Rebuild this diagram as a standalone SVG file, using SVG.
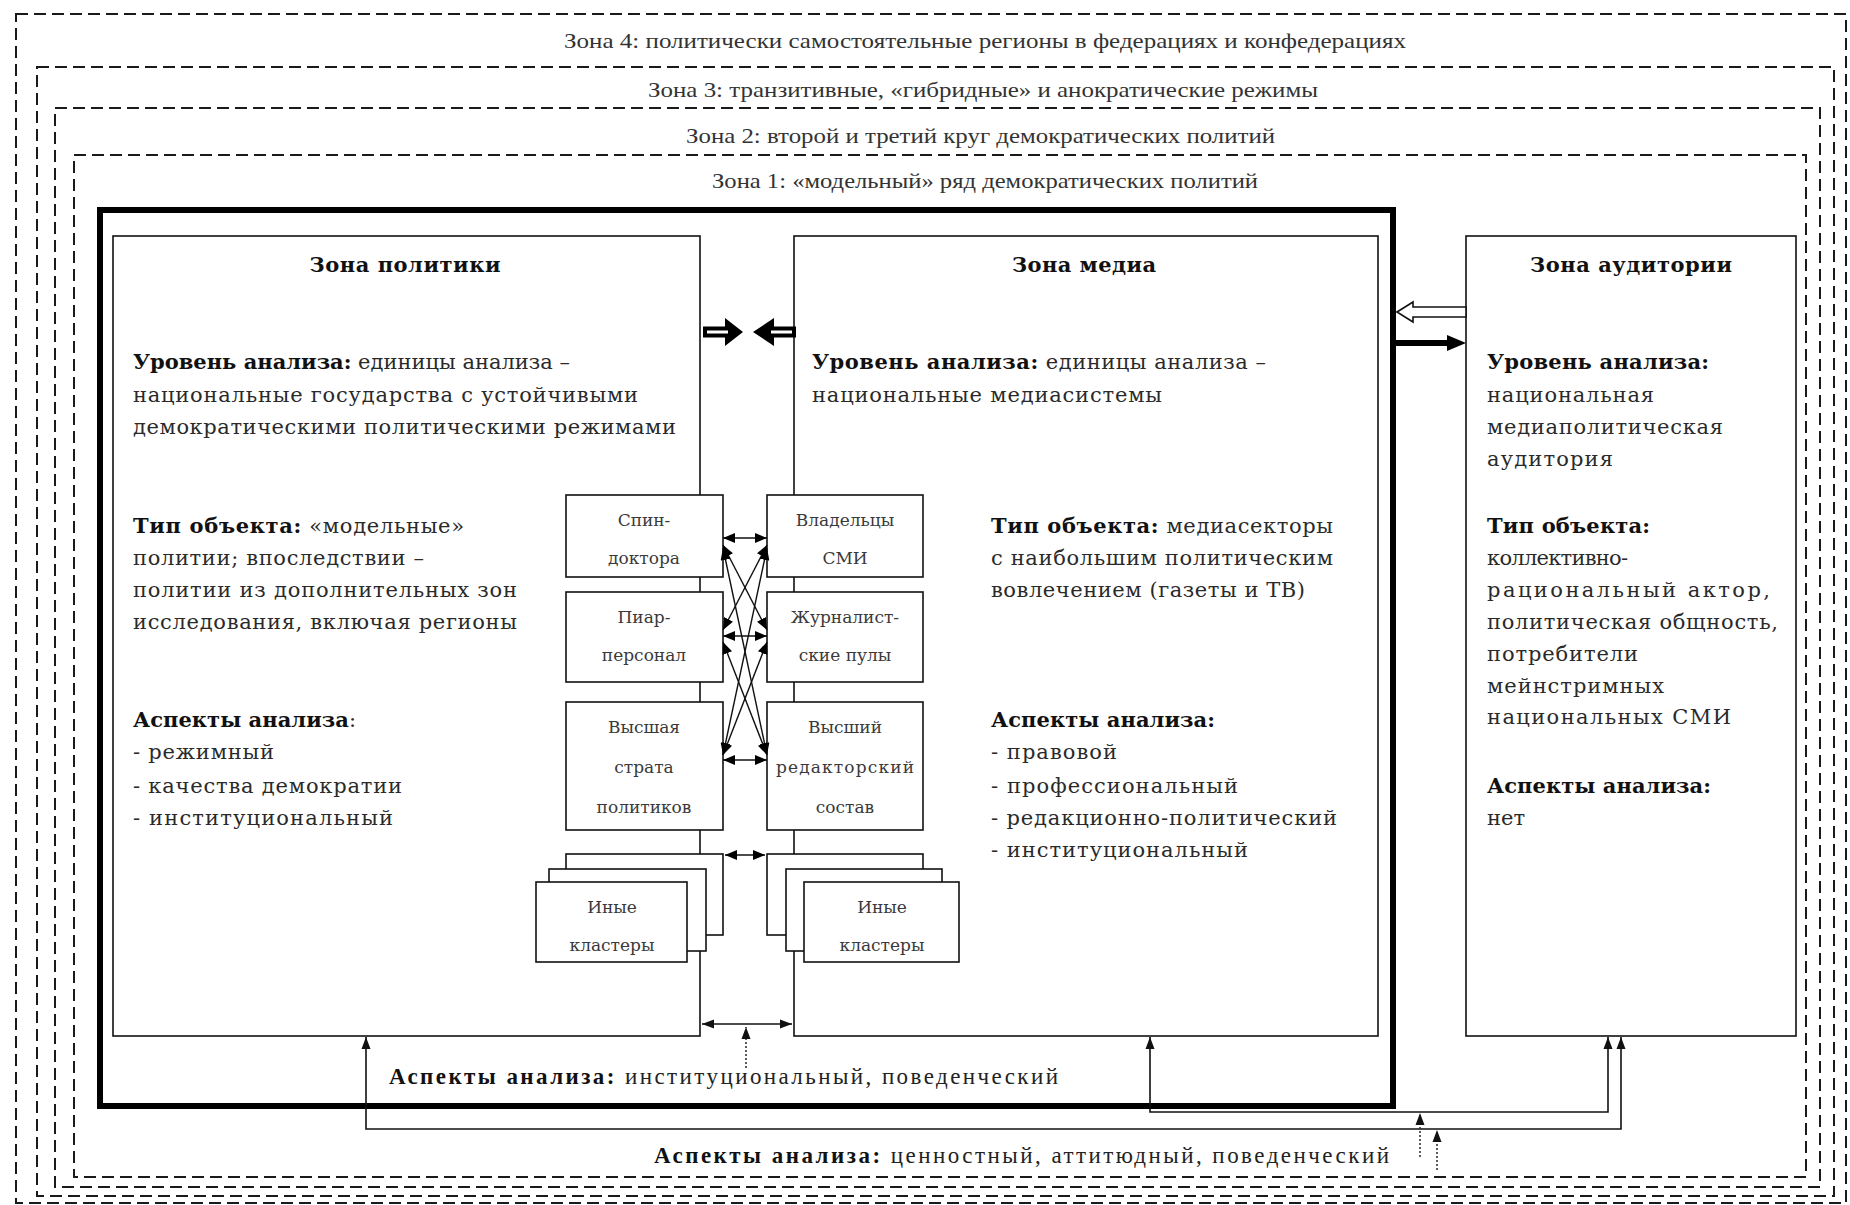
<svg xmlns="http://www.w3.org/2000/svg" width="1850" height="1205" viewBox="0 0 1850 1205">
<style>
.dash{fill:none;stroke:#1a1a1a;stroke-width:2;stroke-dasharray:12 6}
.box{fill:#fff;stroke:#111;stroke-width:1.6}
.thick{fill:none;stroke:#000;stroke-width:6}
.zl{font-family:"Liberation Serif","Times New Roman",serif;font-size:22px;fill:#333}
.t{font-family:"DejaVu Serif",serif;font-size:21px;fill:#2a2a2a}
.b{font-weight:bold;fill:#111}
.title{font-family:"DejaVu Serif",serif;font-size:21px;font-weight:bold;fill:#111;text-anchor:middle}
.sm{font-family:"DejaVu Serif",serif;font-size:17px;fill:#3a3a3a;text-anchor:middle}
.bt{font-family:"Liberation Serif","Times New Roman",serif;font-size:23px;fill:#222}
.ln{fill:none;stroke:#111;stroke-width:1.6}
.cl{fill:none;stroke:#111;stroke-width:1.4}
.dot{fill:none;stroke:#333;stroke-width:1.6;stroke-dasharray:2 2}
</style>
<defs>
<marker id="ah" viewBox="0 0 12 10" refX="12" refY="5" markerWidth="12" markerHeight="10" markerUnits="userSpaceOnUse" orient="auto-start-reverse"><path d="M0,0.5 L12,5 L0,9.5 z" fill="#111"/></marker>
<marker id="as" viewBox="0 0 12 10" refX="12" refY="5" markerWidth="12" markerHeight="10" markerUnits="userSpaceOnUse" orient="auto-start-reverse"><path d="M0,0 L12,5 L0,10 z" fill="#000"/></marker>
</defs>

<g id="zones">
<rect class="dash" x="16" y="14" width="1830" height="1189"/>
<rect class="dash" x="37" y="67" width="1797" height="1129"/>
<rect class="dash" x="55" y="108" width="1765" height="1079"/>
<rect class="dash" x="74" y="155" width="1732" height="1022"/>
<text class="zl" x="564" y="48" textLength="842" lengthAdjust="spacingAndGlyphs">Зона 4: политически самостоятельные регионы в федерациях и конфедерациях</text>
<text class="zl" x="648" y="97" textLength="670" lengthAdjust="spacingAndGlyphs">Зона 3: транзитивные, «гибридные» и анократические режимы</text>
<text class="zl" x="686" y="143" textLength="589" lengthAdjust="spacingAndGlyphs">Зона 2: второй и третий круг демократических политий</text>
<text class="zl" x="712" y="188" textLength="546" lengthAdjust="spacingAndGlyphs">Зона 1: «модельный» ряд демократических политий</text>
</g>

<g id="zone1-frame">
<rect class="thick" x="100" y="210" width="1293" height="896"/>
</g>

<g id="zona-politiki">
<rect class="box" x="113" y="236" width="587" height="800"/>
<text class="title" x="405" y="272" textLength="191">Зона политики</text>
<text class="t" x="133" y="369" textLength="437"><tspan class="b">Уровень анализа:</tspan> единицы анализа –</text>
<text class="t" x="133" y="402" textLength="505">национальные государства с устойчивыми</text>
<text class="t" x="133" y="434" textLength="543">демократическими политическими режимами</text>
<text class="t" x="133" y="533" textLength="331"><tspan class="b">Тип объекта:</tspan> «модельные»</text>
<text class="t" x="133" y="565" textLength="291">политии; впоследствии –</text>
<text class="t" x="133" y="597" textLength="384">политии из дополнительных зон</text>
<text class="t" x="133" y="629" textLength="384">исследования, включая регионы</text>
<text class="t" x="133" y="727" textLength="223"><tspan class="b">Аспекты анализа</tspan>:</text>
<text class="t" x="133" y="759" textLength="141">- режимный</text>
<text class="t" x="133" y="793" textLength="269">- качества демократии</text>
<text class="t" x="133" y="825" textLength="260">- институциональный</text>
</g>

<g id="zona-media">
<rect class="box" x="794" y="236" width="584" height="800"/>
<text class="title" x="1084" y="272" textLength="144">Зона медиа</text>
<text class="t" x="812" y="369" textLength="454"><tspan class="b">Уровень анализа:</tspan> единицы анализа –</text>
<text class="t" x="812" y="402" textLength="350">национальные медиасистемы</text>
<text class="t" x="991" y="533" textLength="342"><tspan class="b">Тип объекта:</tspan> медиасекторы</text>
<text class="t" x="991" y="565" textLength="342">с наибольшим политическим</text>
<text class="t" x="991" y="597" textLength="314">вовлечением (газеты и ТВ)</text>
<text class="t" x="991" y="727" textLength="224"><tspan class="b">Аспекты анализа:</tspan></text>
<text class="t" x="991" y="759" textLength="126">- правовой</text>
<text class="t" x="991" y="793" textLength="247">- профессиональный</text>
<text class="t" x="991" y="825" textLength="346">- редакционно-политический</text>
<text class="t" x="991" y="857" textLength="257">- институциональный</text>
</g>

<g id="zona-auditorii">
<rect class="box" x="1466" y="236" width="330" height="800"/>
<text class="title" x="1631" y="272" textLength="202">Зона аудитории</text>
<text class="t" x="1487" y="369" textLength="222"><tspan class="b">Уровень анализа:</tspan></text>
<text class="t" x="1487" y="402" textLength="167">национальная</text>
<text class="t" x="1487" y="434" textLength="236">медиаполитическая</text>
<text class="t" x="1487" y="466" textLength="126">аудитория</text>
<text class="t" x="1487" y="533" textLength="163"><tspan class="b">Тип объекта:</tspan></text>
<text class="t" x="1487" y="565" textLength="141">коллективно-</text>
<text class="t" x="1487" y="597" textLength="283">рациональный актор,</text>
<text class="t" x="1487" y="629" textLength="291">политическая общность,</text>
<text class="t" x="1487" y="661" textLength="151">потребители</text>
<text class="t" x="1487" y="693" textLength="177">мейнстримных</text>
<text class="t" x="1487" y="724" textLength="244">национальных СМИ</text>
<text class="t" x="1487" y="793" textLength="224"><tspan class="b">Аспекты анализа:</tspan></text>
<text class="t" x="1487" y="825">нет</text>
</g>

<g id="spin-doktora">
<rect class="box" x="566" y="495" width="157" height="82"/>
<text class="sm" x="644" y="526">Спин-</text>
<text class="sm" x="644" y="564">доктора</text>
</g>
<g id="piar-personal">
<rect class="box" x="566" y="592" width="157" height="90"/>
<text class="sm" x="644" y="623">Пиар-</text>
<text class="sm" x="644" y="661">персонал</text>
</g>
<g id="vysshaya-strata">
<rect class="box" x="566" y="702" width="157" height="128"/>
<text class="sm" x="644" y="733">Высшая</text>
<text class="sm" x="644" y="773">страта</text>
<text class="sm" x="644" y="813">политиков</text>
</g>
<g id="vladeltsy-smi">
<rect class="box" x="767" y="495" width="156" height="82"/>
<text class="sm" x="845" y="526">Владельцы</text>
<text class="sm" x="845" y="564">СМИ</text>
</g>
<g id="zhurnalistskie-puly">
<rect class="box" x="767" y="592" width="156" height="90"/>
<text class="sm" x="845" y="623">Журналист-</text>
<text class="sm" x="845" y="661">ские пулы</text>
</g>
<g id="vysshiy-redaktorskiy">
<rect class="box" x="767" y="702" width="156" height="128"/>
<text class="sm" x="845" y="733">Высший</text>
<text class="sm" x="845" y="773" textLength="138">редакторский</text>
<text class="sm" x="845" y="813">состав</text>
</g>
<g id="inye-klastery-politika">
<rect class="box" x="566" y="854" width="157" height="81"/>
<rect class="box" x="549" y="869" width="157" height="82"/>
<rect class="box" x="536" y="882" width="151" height="80"/>
<text class="sm" x="612" y="913">Иные</text>
<text class="sm" x="612" y="951">кластеры</text>
</g>
<g id="inye-klastery-media">
<rect class="box" x="767" y="854" width="156" height="81"/>
<rect class="box" x="786" y="869" width="156" height="82"/>
<rect class="box" x="804" y="882" width="155" height="80"/>
<text class="sm" x="882" y="913">Иные</text>
<text class="sm" x="882" y="951">кластеры</text>
</g>

<g id="connectors">
<line class="cl" x1="723" y1="538" x2="767" y2="538" marker-start="url(#as)" marker-end="url(#as)"/>
<line class="cl" x1="723" y1="636" x2="767" y2="636" marker-start="url(#as)" marker-end="url(#as)"/>
<line class="cl" x1="723" y1="760" x2="767" y2="760" marker-start="url(#as)" marker-end="url(#as)"/>
<line class="cl" x1="723" y1="545" x2="767" y2="630" marker-start="url(#as)" marker-end="url(#as)"/>
<line class="cl" x1="723" y1="548" x2="767" y2="755" marker-start="url(#as)" marker-end="url(#as)"/>
<line class="cl" x1="767" y1="545" x2="723" y2="630" marker-start="url(#as)" marker-end="url(#as)"/>
<line class="cl" x1="767" y1="548" x2="723" y2="755" marker-start="url(#as)" marker-end="url(#as)"/>
<line class="cl" x1="723" y1="642" x2="767" y2="755" marker-start="url(#as)" marker-end="url(#as)"/>
<line class="cl" x1="767" y1="642" x2="723" y2="755" marker-start="url(#as)" marker-end="url(#as)"/>
<line class="cl" x1="725" y1="855" x2="765" y2="855" marker-start="url(#as)" marker-end="url(#as)"/>
<polygon points="703,326.5 725,326.5 725,318 743,332 725,346 725,337.5 703,337.5" fill="#000"/>
<rect x="707" y="330.5" width="21" height="3" fill="#fff"/>
<polygon points="796,326.5 774,326.5 774,318 753,332 774,346 774,337.5 796,337.5" fill="#000"/>
<rect x="771" y="330.5" width="21" height="3" fill="#fff"/>
<polygon points="1397,312 1413,302 1413,307 1466,307 1466,317 1413,317 1413,322" fill="#fff" stroke="#111" stroke-width="1.6"/>
<polygon points="1393,340 1447,340 1447,335 1466,343 1447,351 1447,346 1393,346" fill="#000"/>
<line class="ln" x1="702" y1="1024" x2="792" y2="1024" marker-start="url(#ah)" marker-end="url(#ah)"/>
<line class="dot" x1="746" y1="1068" x2="746" y2="1027" marker-end="url(#ah)"/>
<path class="ln" d="M366,1037 L366,1129 L1621,1129 L1621,1037" marker-start="url(#ah)" marker-end="url(#ah)"/>
<path class="ln" d="M1150,1037 L1150,1112 L1608,1112 L1608,1037" marker-start="url(#ah)" marker-end="url(#ah)"/>
<line class="dot" x1="1420" y1="1157" x2="1420" y2="1113" marker-end="url(#ah)"/>
<line class="dot" x1="1437" y1="1170" x2="1437" y2="1130" marker-end="url(#ah)"/>
</g>

<g id="labels-bottom">
<text class="bt" x="389" y="1084" textLength="669"><tspan font-weight="bold" fill="#111">Аспекты анализа:</tspan> институциональный, поведенческий</text>
<text class="bt" x="654" y="1163" textLength="735"><tspan font-weight="bold" fill="#111">Аспекты анализа:</tspan> ценностный, аттитюдный, поведенческий</text>
</g>
</svg>
